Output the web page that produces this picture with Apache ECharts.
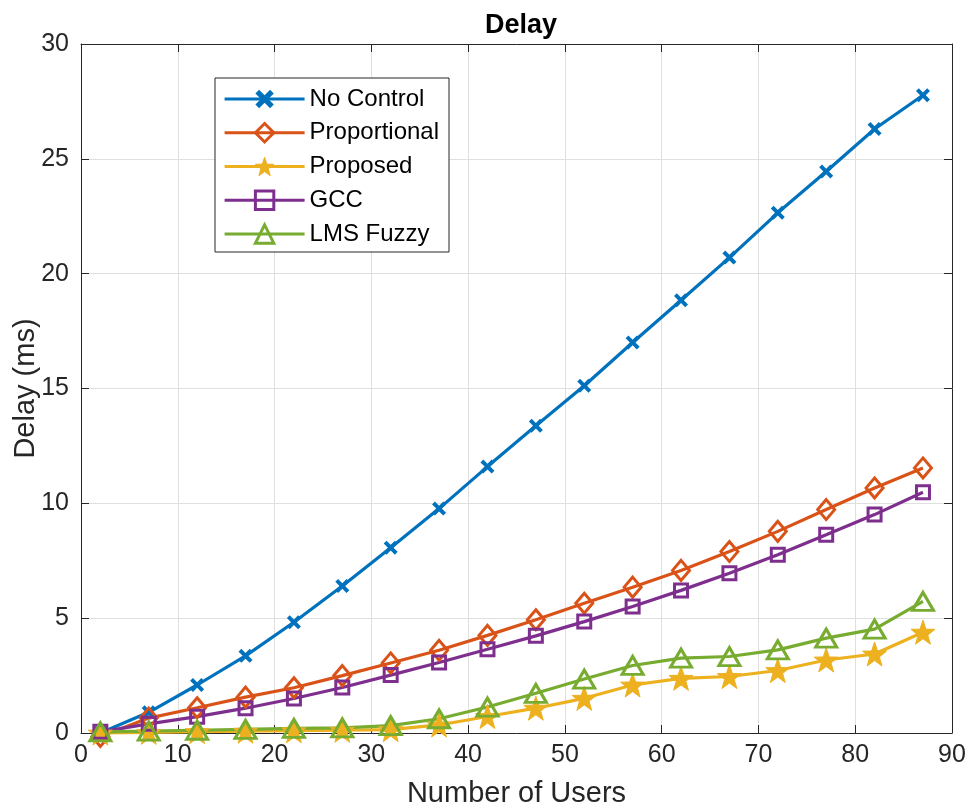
<!DOCTYPE html>
<html>
<head>
<meta charset="utf-8">
<script src="https://cdn.jsdelivr.net/npm/echarts@6/dist/echarts.min.js"></script>
<style>
html,body{margin:0;padding:0;background:#fff;}
#chart{width:979px;height:805px;}
</style>
</head>
<body>
<div id="chart"></div>
<script>
var users = [2, 7, 12, 17, 22, 27, 32, 37, 42, 47, 52, 57, 62, 67, 72, 77, 82, 87];
var noControl = [0, 0.9, 2.09, 3.36, 4.82, 6.4, 8.07, 9.77, 11.6, 13.38, 15.12, 17.0, 18.84, 20.7, 22.65, 24.45, 26.3, 27.77];
var proportional = [-0.15, 0.65, 1.1, 1.56, 1.97, 2.5, 3.05, 3.6, 4.25, 4.93, 5.65, 6.35, 7.08, 7.9, 8.78, 9.73, 10.67, 11.54];
var proposed = [0, 0.03, 0.06, 0.08, 0.1, 0.12, 0.15, 0.35, 0.72, 1.08, 1.51, 2.09, 2.38, 2.46, 2.72, 3.18, 3.44, 4.39];
var gcc = [0.05, 0.4, 0.71, 1.08, 1.5, 1.98, 2.52, 3.07, 3.65, 4.23, 4.85, 5.51, 6.21, 6.96, 7.76, 8.63, 9.51, 10.48];
var lmsFuzzy = [0.05, 0.08, 0.12, 0.16, 0.2, 0.22, 0.32, 0.62, 1.13, 1.73, 2.35, 2.94, 3.26, 3.33, 3.62, 4.13, 4.52, 5.73];
var seriesNames = ['No Control', 'Proportional', 'Proposed', 'GCC', 'LMS Fuzzy'];
var xTicks = [0, 10, 20, 30, 40, 50, 60, 70, 80, 90];
var yTicks = [0, 5, 10, 15, 20, 25, 30];

var FONT = '"Liberation Sans", Arial, Helvetica, sans-serif';
var AX = '#262626';
var COLORS = ['#0072BD', '#D95319', '#EDB120', '#7E2F8E', '#77AC30'];
var X_PATH = 'path://M0,2 L2,0 L5,3 L8,0 L10,2 L7,5 L10,8 L8,10 L5,7 L2,10 L0,8 L3,5 Z';
var STAR_PATH = 'path://M50,0 L61.76,33.82 L97.55,34.55 L69.02,56.18 L79.39,90.45 L50,70 L20.61,90.45 L30.98,56.18 L2.45,34.55 L38.24,33.82 Z';
var LW = 3.2;

function pairs(ys) { return users.map(function (x, i) { return [x, ys[i]]; }); }

function styleFor(color, kind) {
  if (kind === 'x') return { color: color, borderColor: color, borderWidth: 0 };
  if (kind === 'fill') return { color: color, borderColor: color, borderWidth: 1 };
  return { color: 'rgba(0,0,0,0)', borderColor: color, borderWidth: 3 };
}

function mkSeries(name, ys, color, symbol, size, kind) {
  return {
    name: name, type: 'line', data: pairs(ys),
    xAxisIndex: 0, yAxisIndex: 0,
    clip: false, symbol: symbol, symbolSize: size,
    lineStyle: { color: color, width: LW },
    itemStyle: styleFor(color, kind),
    emphasis: { disabled: true },
    animation: false
  };
}

var kinds = ['x', 'empty', 'fill', 'empty', 'empty'];

var chart = echarts.init(document.getElementById('chart'), null, { renderer: 'canvas' });
var xMin = xTicks[0], xMax = xTicks[xTicks.length - 1], xInt = xTicks[1] - xTicks[0];
var yMin = yTicks[0], yMax = yTicks[yTicks.length - 1], yInt = yTicks[1] - yTicks[0];

function axisBase(extra) {
  var o = {
    type: 'value',
    axisLine: { show: true, onZero: false, lineStyle: { color: AX, width: 1 } },
    axisTick: { show: true, inside: true, length: 8, lineStyle: { color: AX, width: 1 } },
    splitLine: { show: false },
    axisLabel: { show: false },
    nameMoveOverlap: false
  };
  for (var k in extra) o[k] = extra[k];
  return o;
}

chart.setOption({
  animation: false,
  backgroundColor: '#fff',
  title: {
    text: 'Delay', left: 516, top: 7, textAlign: 'center',
    textStyle: { fontFamily: FONT, fontSize: 27, fontWeight: 'bold', color: '#000' }
  },
  grid: { left: 81, right: 27, top: 44, bottom: 72, containLabel: false, outerBoundsMode: 'none' },
  legend: {
    data: seriesNames.map(function (n, i) {
      return { name: n, itemStyle: styleFor(COLORS[i], kinds[i]), lineStyle: { color: COLORS[i], width: LW } };
    }),
    orient: 'vertical', left: 215, top: 78,
    itemWidth: 80, itemHeight: 23, itemGap: 9.75,
    padding: [9, 10, 6, 8],
    backgroundColor: '#fff', borderColor: AX, borderWidth: 1, borderRadius: 0,
    textStyle: { fontFamily: FONT, fontSize: 24, color: '#000' },
    selectedMode: false
  },
  xAxis: [
    axisBase({
      min: xMin, max: xMax, interval: xInt, position: 'bottom',
      name: 'Number of Users', nameLocation: 'middle', nameGap: 46,
      nameTextStyle: { fontFamily: FONT, fontSize: 29, color: AX },
      axisLabel: { show: true, margin: 10, fontFamily: FONT, fontSize: 25, color: AX },
      splitLine: { show: true, lineStyle: { color: '#dfdfdf', width: 1 } }
    }),
    axisBase({ min: xMin, max: xMax, interval: xInt, position: 'top' })
  ],
  yAxis: [
    axisBase({
      min: yMin, max: yMax, interval: yInt, position: 'left',
      name: 'Delay (ms)', nameLocation: 'middle', nameGap: 41,
      nameTextStyle: { fontFamily: FONT, fontSize: 29, color: AX },
      axisLabel: { show: true, margin: 12, fontFamily: FONT, fontSize: 25, color: AX },
      splitLine: { show: true, lineStyle: { color: '#dfdfdf', width: 1 } }
    }),
    axisBase({ min: yMin, max: yMax, interval: yInt, position: 'right' })
  ],
  series: [
    mkSeries(seriesNames[0], noControl, COLORS[0], X_PATH, 14, kinds[0]),
    mkSeries(seriesNames[1], proportional, COLORS[1], 'diamond', [17, 20], kinds[1]),
    mkSeries(seriesNames[2], proposed, COLORS[2], STAR_PATH, 24, kinds[2]),
    mkSeries(seriesNames[3], gcc, COLORS[3], 'rect', 13, kinds[3]),
    mkSeries(seriesNames[4], lmsFuzzy, COLORS[4], 'triangle', [21, 18], kinds[4])
  ]
});
</script>
</body>
</html>
